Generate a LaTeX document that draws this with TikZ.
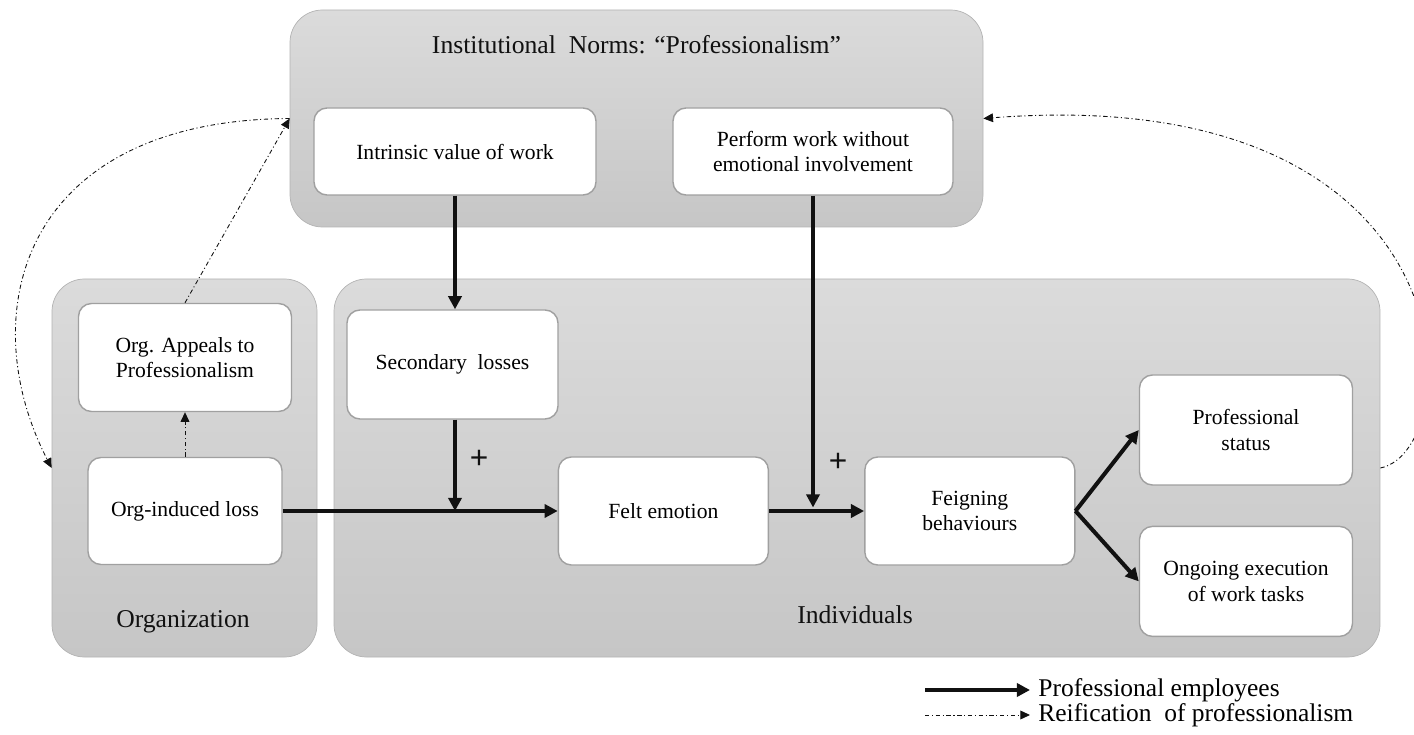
\documentclass[tikz,border=0pt]{standalone}
\usepackage{fontspec}
\setmainfont{Liberation Serif}
\setsansfont{Liberation Sans}
\usepackage{tikz}
\usetikzlibrary{arrows.meta,positioning,calc}
\definecolor{edgegray}{HTML}{A0A0A0}
\definecolor{shadetop}{HTML}{DBDBDB}
\definecolor{shadebot}{HTML}{C6C6C6}
\definecolor{ink}{HTML}{111111}
\tikzset{
  groupbox/.style={
    rectangle, rounded corners=0.65cm, draw=edgegray!80, thin,
    top color=shadetop, bottom color=shadebot,
    inner sep=0pt
  },
  innerbox/.style={
    rectangle, rounded corners=0.26cm, draw=edgegray, thick, fill=white,
    minimum width=4.2cm, minimum height=2.16cm,
    font=\fontsize{12.3}{14.5}\selectfont, align=center,
    inner sep=3pt
  },
  grouptitle/.style={
    font=\fontsize{14.6}{16}\selectfont, text=ink
  },
  mainarrow/.style={
    -{Triangle[length=7.5pt,width=7.5pt]}, line width=2.3pt, color=ink
  },
  reifarrow/.style={
    -{Triangle[length=5.5pt,width=5pt]}, line width=0.5pt, color=ink,
    dash pattern=on 2.5pt off 1.5pt on 0.6pt off 1.5pt
  },
  plusnode/.style={
    font=\sffamily\fontsize{18}{18}\selectfont, text=ink
  },
  legendnode/.style={
    font=\fontsize{14.5}{16}\selectfont, anchor=west, inner sep=0pt
  },
}
\begin{document}
\begin{tikzpicture}

\useasboundingbox (0,0) rectangle (28.28,-14.7);

% CONTAINERS
\node[groupbox, minimum width=13.86cm, minimum height=4.34cm] (inst) at (12.73,-2.37) {};
\node[groupbox, minimum width=5.3cm, minimum height=7.56cm] (org) at (3.69,-9.36) {};
\node[groupbox, minimum width=20.92cm, minimum height=7.56cm] (indiv) at (17.14,-9.36) {};

\node[grouptitle] (insttitle) at (12.73,-0.9) {Institutional\ \ Norms: “Professionalism”};
\node[grouptitle] (orgtitle) at (3.66,-12.44) {Organization};
\node[grouptitle] (indivtitle) at (17.1,-12.3) {Individuals};

% Institutional norms
\node[innerbox, minimum width=5.64cm, minimum height=1.74cm] (intrinsic) at (9.1,-3.03) {Intrinsic value of work};
\node[innerbox, minimum width=5.6cm, minimum height=1.74cm] (perform) at (16.26,-3.03) {Perform work without\\emotional involvement};

% Organization
\node[innerbox, minimum width=4.26cm, minimum height=2.16cm] (orgappeal) at (3.7,-7.15) {Org. Appeals to\\Professionalism};
\node[innerbox, minimum width=3.88cm, minimum height=2.14cm] (orgloss) at (3.7,-10.22) {Org-induced loss};

% Individuals
\node[innerbox, minimum width=4.22cm, minimum height=2.18cm] (secloss) at (9.05,-7.29) {Secondary\ \ losses};
\node[innerbox, right=5.5cm of orgloss] (felt) {Felt emotion};
\node[innerbox, right=1.9cm of felt] (feign) {Feigning\\behaviours};
\node[innerbox, minimum width=4.26cm, minimum height=2.2cm] (profstat) at (24.92,-8.6) {Professional\\status};
\node[innerbox, minimum width=4.26cm, minimum height=2.2cm, below=0.8cm of profstat] (ongoing) {Ongoing execution\\of work tasks};

% Professional employees (thick arrows)
\coordinate (j1) at (intrinsic.south |- felt.west);
\coordinate (j2) at (perform.south |- felt.east);
\draw[mainarrow] (intrinsic.south) -- (intrinsic.south |- secloss.north);
\draw[mainarrow] (intrinsic.south |- secloss.south) -- (j1);
\draw[mainarrow] (orgloss.east) -- (felt.west);
\draw[mainarrow] (perform.south) -- ([yshift=2pt]j2);
\draw[mainarrow] (felt.east) -- (feign.west);
\draw[mainarrow] (feign.east) -- (profstat.west);
\draw[mainarrow] (feign.east) -- (ongoing.west);

\node[plusnode] (plus1) at (9.58,-9.18) {+};
\node[plusnode] (plus2) at (16.76,-9.24) {+};

% Reification of professionalism (dash-dot arrows)
\draw[reifarrow] (orgloss.north) -- (orgappeal.south);
\draw[reifarrow] (orgappeal.north) -- (inst.west);
\draw[reifarrow] (inst.west) .. controls (0.4,-2.4) and (-0.55,-6.3) .. (org.west);
\draw[reifarrow] (indiv.east) .. controls (29.4,-9.0) and (29.6,-1.6) .. (inst.east);

% Legend
\coordinate (leg1) at (18.5,-13.8);
\coordinate (leg1end) at (20.6,-13.8);
\coordinate (leg2) at (18.5,-14.3);
\coordinate (leg2end) at (20.6,-14.3);
\draw[mainarrow] (leg1) -- (leg1end);
\draw[reifarrow] (leg2) -- (leg2end);
\node[legendnode, right=0.16cm of leg1end] (legtext1) {Professional employees};
\node[legendnode, right=0.16cm of leg2end] (legtext2) {Reification\ \ of professionalism};

\end{tikzpicture}
\end{document}
